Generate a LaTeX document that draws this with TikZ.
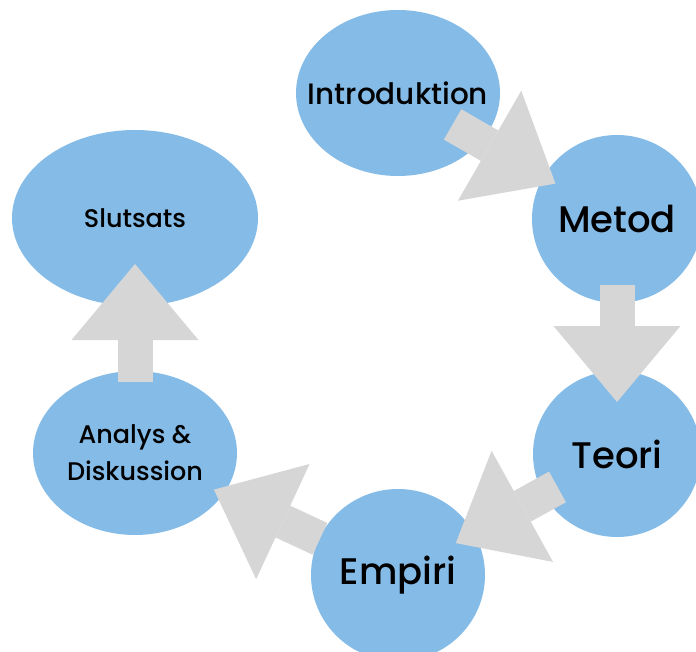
\documentclass[tikz,border=0pt]{standalone}
\usepackage{fontspec}
\setmainfont{Poppins}[UprightFont={* Medium}]
\usetikzlibrary{arrows.meta,shapes.geometric}

\definecolor{phaseblue}{HTML}{85BBE7}
\definecolor{arrowgray}{HTML}{D6D6D6}

\begin{document}
\begin{tikzpicture}[
  x=1pt,y=-1pt,
  phase/.style={ellipse,fill=phaseblue,inner sep=0pt},
  lbl/.style={align=center,text=black},
  big/.style={font=\fontsize{37}{44}\selectfont},
  mid/.style={font=\fontsize{29.5}{34}\selectfont},
  small/.style={font=\fontsize{25.5}{37}\selectfont},
  flow/.style={draw=arrowgray,line width=35pt,-{Triangle[length=76pt,width=127pt,line width=0pt]}}
]
  \useasboundingbox (0,0) rectangle (696,652);

  % the six phases
  \node[phase,minimum width=204pt,minimum height=166pt] (intro) at (398,93) {};
  \node[phase,minimum width=170pt,minimum height=168pt] (metod) at (617,219) {};
  \node[phase,minimum width=168pt,minimum height=166pt] (teori) at (617,454) {};
  \node[phase,minimum width=174pt,minimum height=172pt] (empiri) at (398,575) {};
  \node[phase,minimum width=204pt,minimum height=164pt] (analys) at (135,453) {};
  \node[phase,minimum width=246pt,minimum height=176pt] (slutsats) at (135,218) {};

  % block arrows
  \draw[flow,shorten <=63pt,shorten >=71pt] (intro.center) -- (metod.center);
  \draw[flow,shorten <=66pt,shorten >=52pt] (metod.center) -- (teori.center);
  \draw[flow,shorten <=68pt,shorten >=66pt] (teori.center) -- (empiri.center);
  \draw[flow,shorten <=86pt,shorten >=87pt] (empiri.center) -- (analys.center);
  \draw[flow,shorten <=71pt,shorten >=46pt] (analys.center) -- (slutsats.center);

  % texts
  \node[lbl,mid] (introtext) at (intro) {Introduktion};
  \node[lbl,big] (metodtext) at (metod) {Metod};
  \node[lbl,big] (teoritext) at (teori) {Teori};
  \node[lbl,big] (empiritext) at (empiri) {Empiri};
  \node[lbl,small] (analystext) at (analys) {Analys \&\\Diskussion};
  \node[lbl,small] (slutsatstext) at (slutsats) {Slutsats};
\end{tikzpicture}
\end{document}
